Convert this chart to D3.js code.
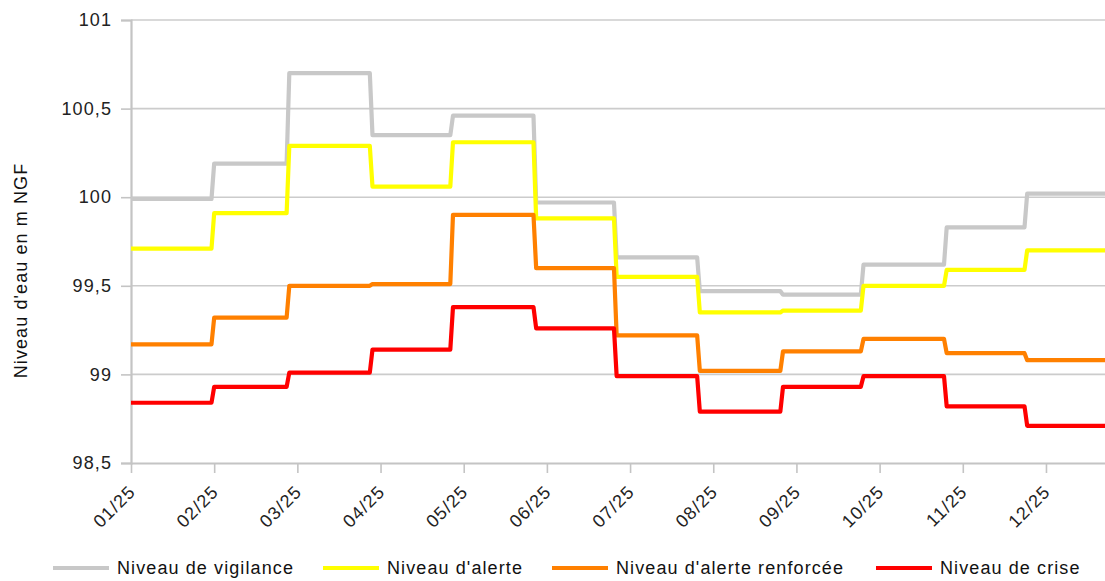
<!DOCTYPE html>
<html>
<head>
<meta charset="utf-8">
<script src="https://cdn.jsdelivr.net/npm/d3@7"></script>
<style>
  html, body { margin: 0; padding: 0; background: #fff; }
  svg { display: block; font-family: "Liberation Sans", Arial, sans-serif; }
  text { letter-spacing: 1.1px; }
</style>
</head>
<body>
<svg id="chart" width="1105" height="581"></svg>
<script>
// ---- Data ----
const monthStarts = ["2025-01-01","2025-02-01","2025-03-01","2025-04-01","2025-05-01","2025-06-01",
                     "2025-07-01","2025-08-01","2025-09-01","2025-10-01","2025-11-01","2025-12-01"];
const periodEnd = "2025-12-30";
const vigilance = [99.99, 100.19, 100.70, 100.35, 100.46, 99.97, 99.66, 99.47, 99.45, 99.62, 99.83, 100.02];
const alerte    = [99.71, 99.91, 100.29, 100.06, 100.31, 99.88, 99.55, 99.35, 99.36, 99.50, 99.59, 99.70];
const renforcee = [99.17, 99.32, 99.50, 99.51, 99.90, 99.60, 99.22, 99.02, 99.13, 99.20, 99.12, 99.08];
const crise     = [98.84, 98.93, 99.01, 99.14, 99.38, 99.26, 98.99, 98.79, 98.93, 98.99, 98.82, 98.71];
const seriesNames = ["Niveau de vigilance", "Niveau d'alerte", "Niveau d'alerte renforcée", "Niveau de crise"];
const seriesColors = ["#c8c8c8", "#ffff00", "#ff8000", "#ff0000"];
const tickDates = ["2025-01-01","2025-02-01","2025-03-04","2025-04-04","2025-05-05","2025-06-05",
                   "2025-07-06","2025-08-06","2025-09-06","2025-10-07","2025-11-07","2025-12-08"];
const yTicks = [98.5, 99, 99.5, 100, 100.5, 101];
const yTitle = "Niveau d'eau en m NGF";

// ---- Layout ----
const svg = d3.select("#chart");
const margin = {left: 131, right: 0, top: 20, bottom: 118};
const W = 1105, H = 581;
const parse = d3.utcParse("%Y-%m-%d");
const x = d3.scaleUtc().domain([parse(monthStarts[0]), parse(periodEnd)]).range([margin.left, W - margin.right]);
const y = d3.scaleLinear().domain([98.5, 101]).range([H - margin.bottom, margin.top]);
const fmtY = d => d3.format(",")(d).replace(".", ",");

// gridlines
svg.append("g").selectAll("line").data(yTicks.filter(d => d > 98.5)).join("line")
  .attr("x1", margin.left).attr("x2", W).attr("y1", d => y(d)).attr("y2", d => y(d))
  .attr("stroke", "#cccccc").attr("stroke-width", 1.6);

// y axis
const yAxis = svg.append("g").attr("transform", `translate(${margin.left},0)`)
  .call(d3.axisLeft(y).tickValues(yTicks).tickFormat(fmtY).tickSize(10).tickPadding(9));
yAxis.select(".domain").attr("stroke", "#c4c4c4").attr("stroke-width", 2.2);
yAxis.selectAll(".tick line").attr("stroke", "#c4c4c4").attr("stroke-width", 1.6);
yAxis.selectAll("text").attr("font-size", 18).attr("fill", "#222").attr("font-family", "Liberation Sans, Arial, sans-serif");

// x axis
const xAxis = svg.append("g").attr("transform", `translate(0,${y(98.5)})`)
  .call(d3.axisBottom(x).tickValues(tickDates.map(parse)).tickFormat(d3.utcFormat("%m/%y")).tickSize(10).tickSizeOuter(0));
xAxis.select(".domain").attr("stroke", "#c4c4c4").attr("stroke-width", 2.2);
xAxis.selectAll(".tick line").attr("stroke", "#c4c4c4").attr("stroke-width", 1.6);
xAxis.selectAll("text")
  .attr("font-size", 18).attr("fill", "#222").attr("font-family", "Liberation Sans, Arial, sans-serif")
  .attr("text-anchor", "end").attr("dy", null).attr("y", 0)
  .attr("transform", "translate(5,30) rotate(-45)");

// y title
svg.append("text").attr("transform", `translate(27,${(y(98.5)+y(101))/2 + 29}) rotate(-90)`)
  .attr("text-anchor", "middle").attr("font-size", 18).attr("fill", "#111").text(yTitle);

// series lines (step with 1-day transitions)
const allSeries = [vigilance, alerte, renforcee, crise];
const day = 864e5;
function pts(vals) {
  const out = [];
  vals.forEach((v, i) => {
    const s = parse(monthStarts[i]);
    const e = i < vals.length - 1 ? new Date(parse(monthStarts[i + 1]) - day) : parse(periodEnd);
    out.push([s, v], [e, v]);
  });
  return out;
}
const line = d3.line().x(d => x(d[0])).y(d => y(d[1]));
svg.append("g").selectAll("path").data(allSeries).join("path")
  .attr("d", d => line(pts(d))).attr("fill", "none")
  .attr("stroke", (d, i) => seriesColors[i]).attr("stroke-width", 4.2)
  .attr("stroke-linejoin", "round");

// legend
const legX = [53, 323, 552, 876];
const leg = svg.append("g").selectAll("g").data(seriesNames).join("g")
  .attr("transform", (d, i) => `translate(${legX[i]},568)`);
leg.append("line").attr("x1", 0).attr("x2", 56).attr("y1", 0).attr("y2", 0)
  .attr("stroke", (d, i) => seriesColors[i]).attr("stroke-width", 4.2);
leg.append("text").attr("x", 64).attr("y", 0).attr("dy", "0.35em")
  .attr("font-size", 18).attr("fill", "#111").text(d => d);
</script>
</body>
</html>
